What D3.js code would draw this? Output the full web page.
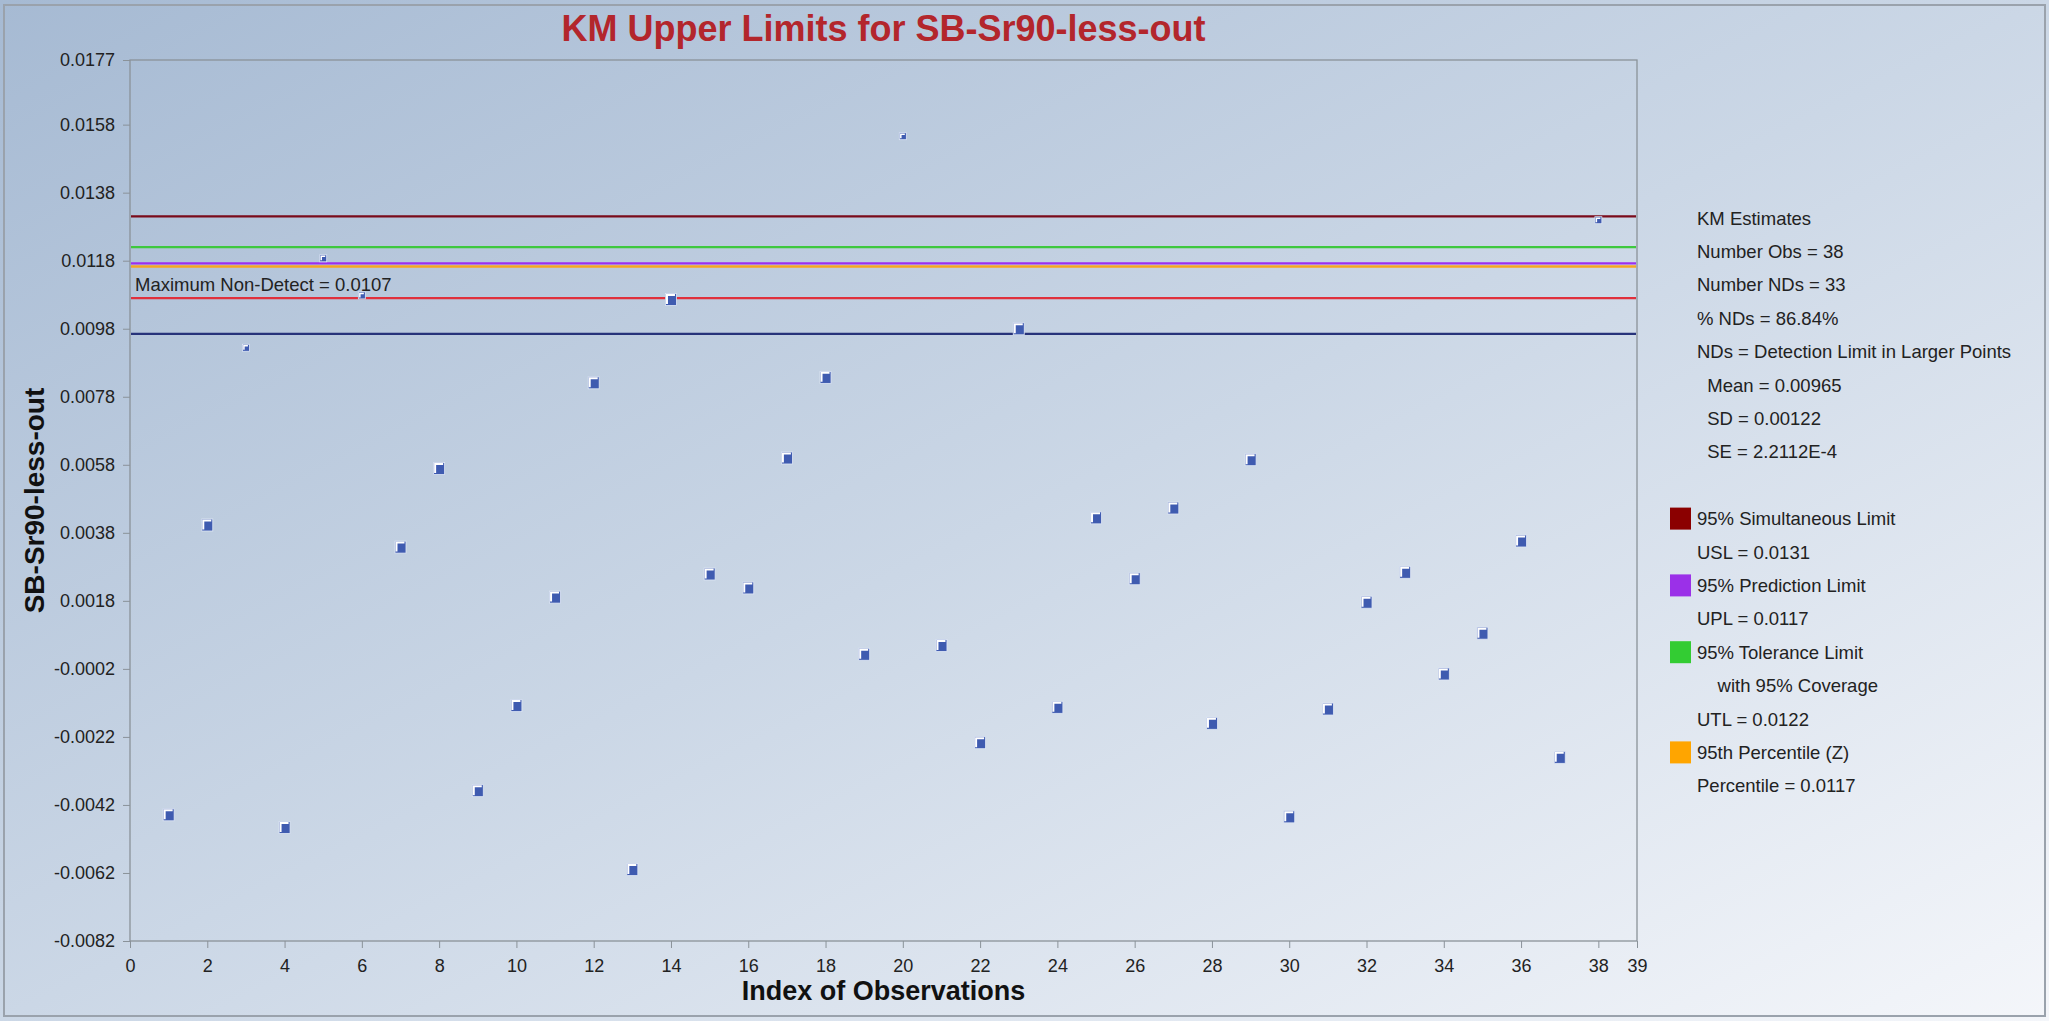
<!DOCTYPE html>
<html>
<head>
<meta charset="utf-8">
<script src="https://cdn.jsdelivr.net/npm/d3@7"></script>
<style>
html,body{margin:0;padding:0;background:#fff;}
svg{display:block;font-family:"Liberation Sans",Arial,sans-serif;}
</style>
</head>
<body>
<svg id="chart" width="2049" height="1021"></svg>
<script>
// ---------- data ----------
const obsIndex = [1,2,3,4,5,6,7,8,9,10,11,12,13,14,15,16,17,18,19,20,21,22,23,24,25,26,27,28,29,30,31,32,33,34,35,36,37,38];
const obsValues = [-0.00449,0.00403,0.00924,-0.00486,0.01187,0.01078,0.00338,0.00569,-0.00378,-0.00128,
                   0.00191,0.00821,-0.00610,0.01066,0.00259,0.00218,0.00600,0.00837,0.00023,0.01546,
                   0.00049,-0.00237,0.00980,-0.00133,0.00424,0.00245,0.00453,-0.00180,0.00595,-0.00455,
                   -0.00138,0.00176,0.00264,-0.00035,0.00085,0.00356,-0.00280,0.01299];
const detectIndex = [3,5,6,20,38];   // detected values drawn as smaller points

const limitNames  = ["USL","UTL","UPL","Percentile","MaxND","Mean"];
const limitValues = [0.0131,0.0122,0.01172,0.01163,0.0107,0.00965];
const limitColors = ["#7a0a1a","#3ec83e","#9b2ff0","#f5a623","#e0303c","#27337a"];

const yTickValues = [-0.0082,-0.0062,-0.0042,-0.0022,-0.0002,0.0018,0.0038,0.0058,0.0078,0.0098,0.0118,0.0138,0.0158,0.0177];
const xTickValues = [0,2,4,6,8,10,12,14,16,18,20,22,24,26,28,30,32,34,36,38,39];

const titleText = "KM Upper Limits for SB-Sr90-less-out";
const xTitle = "Index of Observations";
const yTitle = "SB-Sr90-less-out";
const maxNDLabel = "Maximum Non-Detect = 0.0107";

const statLines = ["KM Estimates","Number Obs = 38","Number NDs = 33","% NDs = 86.84%",
                   "NDs = Detection Limit in Larger Points","  Mean = 0.00965","  SD = 0.00122","  SE = 2.2112E-4"];
const legendItems = [
  {label:"95% Simultaneous Limit", color:"#8b0000", sub:["USL = 0.0131"]},
  {label:"95% Prediction Limit", color:"#9b30e8", sub:["UPL = 0.0117"]},
  {label:"95% Tolerance Limit", color:"#33cc33", sub:["    with 95% Coverage","UTL = 0.0122"]},
  {label:"95th Percentile (Z)", color:"#ffa500", sub:["Percentile = 0.0117"]}
];

// ---------- layout ----------
const W = 2049, H = 1021;
const plot = {left:130, right:1637, top:60, bottom:941};
const svg = d3.select("#chart");

const defs = svg.append("defs");
const bg = defs.append("linearGradient").attr("id","bg")
  .attr("x1","0").attr("y1","0").attr("x2","1").attr("y2","1");
bg.append("stop").attr("offset","0").attr("stop-color","#a6bad3");
bg.append("stop").attr("offset","0.5").attr("stop-color","#cbd7e6");
bg.append("stop").attr("offset","1").attr("stop-color","#f4f6fa");

svg.append("rect").attr("x",0).attr("y",0).attr("width",W).attr("height",H).attr("fill","url(#bg)");
svg.append("rect").attr("x",4).attr("y",5).attr("width",W-8).attr("height",H-10)
  .attr("fill","none").attr("stroke","#9aa2ac").attr("stroke-width",2);

const x = d3.scaleLinear().domain([0,39]).range([plot.left, plot.right]);
const y = d3.scaleLinear().domain([-0.0082,0.0177]).range([plot.bottom, plot.top]);

// title
svg.append("text").attr("x",(plot.left+plot.right)/2).attr("y",41)
  .attr("text-anchor","middle").attr("font-size",36).attr("font-weight","bold")
  .attr("fill","#b3262c").text(titleText);

// plot frame
svg.append("rect").attr("x",plot.left).attr("y",plot.top)
  .attr("width",plot.right-plot.left).attr("height",plot.bottom-plot.top)
  .attr("fill","none").attr("stroke","#8a9299").attr("stroke-width",1.3);

// axes
const fmt4 = d3.format(".4f");
const yAxis = d3.axisLeft(y).tickValues(yTickValues)
  .tickFormat(d => fmt4(d).replace("\u2212","-")).tickSize(7).tickPadding(8);
const gy = svg.append("g").attr("transform",`translate(${plot.left},0)`).call(yAxis);
gy.select(".domain").remove();
gy.selectAll(".tick line").attr("stroke","#8a9299");
gy.selectAll(".tick text").attr("font-size",18).attr("fill","#222").attr("font-family","Liberation Sans, Arial, sans-serif");

const xAxis = d3.axisBottom(x).tickValues(xTickValues).tickFormat(d3.format("d")).tickSize(7).tickPadding(11);
const gx = svg.append("g").attr("transform",`translate(0,${plot.bottom})`).call(xAxis);
gx.select(".domain").remove();
gx.selectAll(".tick line").attr("stroke","#8a9299");
gx.selectAll(".tick text").attr("font-size",18).attr("fill","#222").attr("font-family","Liberation Sans, Arial, sans-serif");

// axis titles
svg.append("text").attr("x",(plot.left+plot.right)/2).attr("y",1000)
  .attr("text-anchor","middle").attr("font-size",27).attr("font-weight","bold").attr("fill","#111").text(xTitle);
svg.append("text").attr("transform",`translate(44,${(plot.top+plot.bottom)/2}) rotate(-90)`)
  .attr("text-anchor","middle").attr("font-size",28).attr("font-weight","bold").attr("fill","#111").text(yTitle);

// limit lines
const lineData = limitNames.map((n,i)=>({name:n, value:limitValues[i], color:limitColors[i]}));
const order = ["Percentile","USL","UTL","UPL","MaxND","Mean"];
svg.append("g").selectAll("line").data(order.map(n=>lineData.find(d=>d.name===n))).join("line")
  .attr("x1",plot.left+1).attr("x2",plot.right-1)
  .attr("y1",d=>y(d.value)).attr("y2",d=>y(d.value))
  .attr("stroke",d=>d.color).attr("stroke-width",d=>d.name==="Percentile"?2.5:2.2);

// max non-detect label
svg.append("text").attr("x",plot.left+5).attr("y",y(0.0107)-7)
  .attr("font-size",18.5).attr("fill","#222").text(maxNDLabel);

// points
const pts = obsIndex.map((d,i)=>({i:d, v:obsValues[i], small: detectIndex.includes(d)}));
const gp = svg.append("g");
const mk = gp.selectAll("g").data(pts).join("g")
  .attr("transform",d=>`translate(${x(d.i)},${y(d.v)})`);
mk.append("rect")
  .attr("x",d=>d.small?-3.5:-5.5).attr("y",d=>d.small?-3.5:-6)
  .attr("width",d=>d.small?7:11).attr("height",d=>d.small?7:12)
  .attr("fill","#3f5bb0").attr("stroke","#dfe7f5").attr("stroke-width",0.8);
mk.append("path")
  .attr("d",d=>{const s=d.small?3.5:5.5, t=d.small?3.5:6;
    return `M${-s+1.5},${t-1.5} L${-s+1.5},${-t+1.5} L${s-1.5},${-t+1.5}`;})
  .attr("fill","none").attr("stroke","#ffffff").attr("stroke-width",d=>d.small?1.5:2);

// stats text
const lx = 1697, ly0 = 218, step = 33.4;
const gs = svg.append("g").attr("font-size",18.5).attr("fill","#222");
gs.selectAll("text").data(statLines).join("text")
  .attr("x",lx).attr("y",(d,i)=>ly0+i*step+6.5)
  .style("white-space","pre").text(d=>d);

// legend
let row = statLines.length + 1;
const gl = svg.append("g").attr("font-size",18.5).attr("fill","#222");
legendItems.forEach(item=>{
  const cy = ly0 + row*step;
  gl.append("rect").attr("x",1670).attr("y",cy-11).attr("width",21).attr("height",22).attr("fill",item.color);
  gl.append("text").attr("x",lx).attr("y",cy+6.5).text(item.label);
  row++;
  item.sub.forEach(s=>{
    gl.append("text").attr("x",lx).attr("y",ly0+row*step+6.5).style("white-space","pre").text(s);
    row++;
  });
});
</script>
</body>
</html>
